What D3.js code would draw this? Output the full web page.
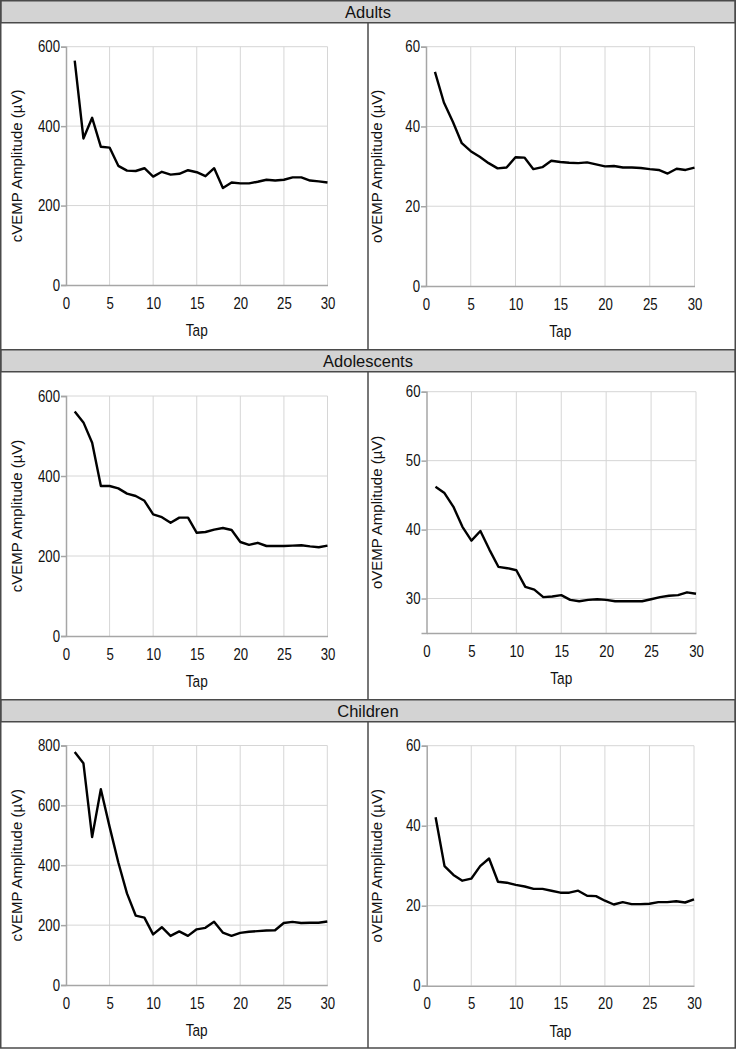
<!DOCTYPE html>
<html><head><meta charset="utf-8">
<script src="https://cdn.jsdelivr.net/npm/d3@7"></script>
<style>
html,body{margin:0;padding:0;background:#fff;}
svg{display:block;}
</style></head>
<body>
<svg id="chart" width="736" height="1050"></svg>
<script>
const taps = d3.range(1, 31);
const groups = ["Adults", "Adolescents", "Children"];
const xTicks = [0, 5, 10, 15, 20, 25, 30];

const adultsC = [565,369,421,348,346,300,288,287,294,273,285,278,280,289,284,274,294,244,258,256,256,260,265,263,265,271,271,263,261,258];
const adultsO = [53.7,46.0,41.2,35.8,33.8,32.4,30.8,29.5,29.7,32.3,32.2,29.3,29.8,31.4,31.1,30.9,30.8,31.0,30.5,30.0,30.1,29.7,29.7,29.6,29.3,29.1,28.2,29.4,29.1,29.7];
const adolC = [561,534,483,375,375,369,356,350,338,304,297,283,296,296,258,260,266,270,265,235,228,233,225,225,225,226,227,224,222,226];
const adolO = [46.2,45.3,43.3,40.4,38.4,39.8,37.1,34.6,34.4,34.1,31.7,31.3,30.2,30.3,30.5,29.8,29.6,29.8,29.9,29.8,29.6,29.6,29.6,29.6,29.9,30.2,30.4,30.5,30.9,30.7];
const childC = [778,741,494,654,529,410,306,232,225,169,193,164,179,164,186,191,211,175,164,174,178,180,182,183,207,211,207,208,208,212];
const childO = [42.1,29.9,27.7,26.25,26.75,29.9,31.8,26.0,25.75,25.2,24.8,24.2,24.2,23.75,23.25,23.25,23.75,22.5,22.4,21.25,20.3,20.9,20.4,20.4,20.5,20.9,20.9,21.1,20.8,21.6];

const yTicksC600 = [0,200,400,600];
const yTicksC800 = [0,200,400,600,800];
const yTicksO60 = [0,20,40,60];
const yTicksO60b = [30,40,50,60];

const cLabel = "cVEMP Amplitude (µV)";
const oLabel = "oVEMP Amplitude (µV)";
const xLabel = "Tap";

const W = 736;
const svg = d3.select("#chart");
const headerTops = [0, 349, 699];
const headerH = 22;
const frameBottom = 1048;

const panels = [
  {vals: adultsC, dom:[0,600], ticks:yTicksC600, label:cLabel, x0:66, x1:327.5, yTop:46.7, yBot:285, labX:17},
  {vals: adultsO, dom:[0,60], ticks:yTicksO60, label:oLabel, x0:426, x1:694.5, yTop:46.7, yBot:286, labX:377},
  {vals: adolC, dom:[0,600], ticks:yTicksC600, label:cLabel, x0:66, x1:327.5, yTop:396, yBot:636, labX:17},
  {vals: adolO, dom:[25,60], ticks:yTicksO60b, label:oLabel, x0:426.5, x1:696, yTop:391.7, yBot:633, labX:377},
  {vals: childC, dom:[0,800], ticks:yTicksC800, label:cLabel, x0:66, x1:327.3, yTop:745.5, yBot:985, labX:17},
  {vals: childO, dom:[0,60], ticks:yTicksO60, label:oLabel, x0:426.7, x1:694, yTop:745.7, yBot:985.7, labX:377}
];

const regular = "'Liberation Sans',Arial,sans-serif";
const SQ = 0.8;

groups.forEach((g, i) => {
  const t = headerTops[i];
  svg.append("rect").attr("x", 0.75).attr("y", t + 0.75).attr("width", W - 1.5).attr("height", headerH)
    .attr("fill", "#d3d3d3").attr("stroke", "#4a4a4a").attr("stroke-width", 1.5);
  svg.append("text").attr("x", W / 2).attr("y", t + headerH / 2 + 1).attr("dy", "0.35em")
    .attr("text-anchor", "middle").attr("font-family", regular).attr("font-size", 16.5)
    .attr("fill", "#111").text(g);
});
svg.append("line").attr("x1", 0.75).attr("x2", 0.75).attr("y1", 0).attr("y2", frameBottom).attr("stroke", "#4a4a4a").attr("stroke-width", 1.5);
svg.append("line").attr("x1", W - 0.75).attr("x2", W - 0.75).attr("y1", 0).attr("y2", frameBottom).attr("stroke", "#4a4a4a").attr("stroke-width", 1.5);
svg.append("line").attr("x1", 0).attr("x2", W).attr("y1", frameBottom).attr("y2", frameBottom).attr("stroke", "#4a4a4a").attr("stroke-width", 1.5);
headerTops.forEach((t, i) => {
  const bottom = i < 2 ? headerTops[i + 1] : frameBottom;
  svg.append("line").attr("x1", 368).attr("x2", 368).attr("y1", t + headerH + 0.75).attr("y2", bottom)
    .attr("stroke", "#4a4a4a").attr("stroke-width", 1.5);
});

panels.forEach(p => {
  const x = d3.scaleLinear().domain([0, 30]).range([p.x0, p.x1]);
  const y = d3.scaleLinear().domain(p.dom).range([p.yBot, p.yTop]);
  const g = svg.append("g");
  g.selectAll(".vg").data(xTicks.slice(1)).join("line")
    .attr("x1", d => x(d)).attr("x2", d => x(d)).attr("y1", p.yTop).attr("y2", p.yBot)
    .attr("stroke", "#d6d6d6").attr("stroke-width", 1);
  g.selectAll(".hg").data(p.ticks.filter(d => d > p.dom[0])).join("line")
    .attr("x1", p.x0).attr("x2", p.x1).attr("y1", d => y(d)).attr("y2", d => y(d))
    .attr("stroke", "#d6d6d6").attr("stroke-width", 1);
  const ya = d3.axisLeft(y).tickValues(p.ticks).tickSize(5).tickPadding(1).tickFormat(d3.format("d"));
  const yg = g.append("g").attr("transform", `translate(${p.x0},0)`).call(ya);
  yg.select(".domain").attr("stroke", "#a6a6a6").attr("stroke-width", 1.5);
  yg.selectAll(".tick line").attr("stroke", "#a6a6a6").attr("stroke-width", 1.5);
  yg.selectAll("text").attr("font-family", regular).attr("font-size", 16.5).attr("fill", "#111")
    .attr("x", -6 / SQ).attr("transform", `scale(${SQ},1)`);
  const xa = d3.axisBottom(x).tickValues(xTicks).tickSize(0).tickPadding(12).tickFormat(d3.format("d"));
  const xg = g.append("g").attr("transform", `translate(0,${p.yBot})`).call(xa);
  xg.select(".domain").attr("stroke", "#a6a6a6").attr("stroke-width", 1.5);
  xg.selectAll("text").attr("font-family", regular).attr("font-size", 16.5).attr("fill", "#111")
    .attr("transform", `scale(${SQ},1)`);
  const line = d3.line().x((d, i) => x(taps[i])).y(d => y(d));
  g.append("path").datum(p.vals).attr("d", line).attr("fill", "none")
    .attr("stroke", "#000").attr("stroke-width", 2.4).attr("stroke-linejoin", "round");
  const cx = (p.x0 + p.x1) / 2;
  g.append("text").attr("transform", `translate(${cx},${p.yBot + 51}) scale(${SQ},1)`)
    .attr("text-anchor", "middle").attr("font-family", regular).attr("font-size", 17).attr("fill", "#111").text(xLabel);
  g.append("text").attr("transform", `translate(${p.labX},${(p.yTop + p.yBot) / 2}) rotate(-90)`)
    .attr("dy", "0.35em").attr("text-anchor", "middle").attr("font-family", regular).attr("font-size", 15)
    .attr("fill", "#111").text(p.label);
});
</script>
</body></html>
